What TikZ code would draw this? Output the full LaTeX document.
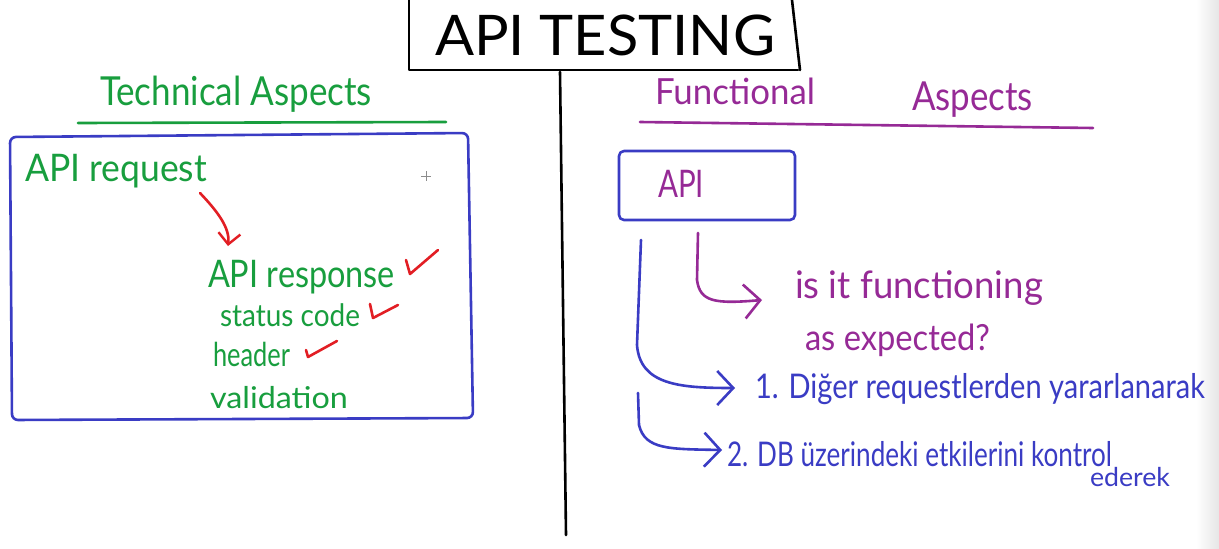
\documentclass[tikz,border=0pt]{standalone}
\usepackage{fontspec}
\setmainfont{Lato}
\usetikzlibrary{arrows.meta}
\definecolor{hgreen}{RGB}{24,158,62}
\definecolor{hred}{RGB}{226,30,36}
\definecolor{hblue}{RGB}{58,60,196}
\definecolor{hpurple}{RGB}{150,42,150}
\newcommand\hw[2]{\resizebox{#1pt}{\height}{#2}}
\tikzset{
  ink/.style={line width=2.6pt, line cap=round, line join=round},
  lbl/.style={anchor=base west, inner sep=0pt, outer sep=0pt},
  barb/.style={-{Straight Barb[length=16pt,width=34pt,line width=2.6pt]}},
  smallbarb/.style={-{Straight Barb[length=11pt,width=22pt,line width=2.4pt]}},
}
\begin{document}
\begin{tikzpicture}[x=1pt,y=-1pt]
\useasboundingbox (0,0) rectangle (1219,549);
\fill[white] (0,0) rectangle (1219,549);
\shade[left color=white,right color=black!10] (1196,0) rectangle (1219,549);

% title
\draw[ink,black] (409,0) -- (409,70) -- (798,70);
\draw[ink,black] (792,0) -- (800,70);
\node[lbl,font=\fontsize{56}{58}\selectfont] (title) at (435,55) {\hw{340}{API TESTING}};

% divider
\draw[ink,black] (560,72) -- (566,535);

% technical aspects
\node[lbl,hgreen,font=\fontsize{40}{44}\selectfont] (tech) at (100,105) {\hw{272}{Technical Aspects}};
\draw[ink,hgreen] (78,123) -- (446,122);
\draw[ink,hblue,rounded corners=6pt] (10,137) -- (468,133) -- (473,418) -- (12,420) -- cycle;
\node[lbl,hgreen,font=\fontsize{38}{42}\selectfont] (req) at (25,181) {\hw{182}{API request}};
\node[lbl,hgreen,font=\fontsize{38}{42}\selectfont] (resp) at (208,287) {\hw{187}{API response}};
\node[lbl,hgreen,font=\fontsize{31}{34}\selectfont] (status) at (220,326) {\hw{140}{status code}};
\node[lbl,hgreen,font=\fontsize{33}{36}\selectfont] (header) at (213,366) {\hw{77}{header}};
\node[lbl,hgreen,font=\fontsize{30}{34}\selectfont] (valid) at (210,408) {\hw{138}{validation}};
\draw[black!45,line width=0.8pt] (421,176) -- (431,176) (426,171) -- (426,181);

\coordinate (r1) at (200,193);
\coordinate (r2) at (228,246);
\draw[ink,hred,smallbarb] (r1) .. controls (218,212) and (230,228) .. (r2);
\draw[ink,hred] (406,260) -- (410,274) -- (438,250);
\draw[ink,hred] (370,304) -- (373,318) -- (398,305);
\draw[ink,hred] (306,350) -- (308,357) -- (337,341);

% functional aspects
\node[lbl,hpurple,font=\fontsize{36}{40}\selectfont] (func) at (655,104) {\hw{160}{Functional}};
\node[lbl,hpurple,font=\fontsize{40}{44}\selectfont] (asp) at (912,110) {\hw{121}{Aspects}};
\draw[ink,hpurple] (640,122) -- (1093,128);

\draw[ink,hblue,rounded corners=5pt] (619,151) rectangle (795,220);
\node[lbl,hpurple,font=\fontsize{38}{42}\selectfont] (api) at (658,197) {\hw{46}{API}};

\node[lbl,hpurple,font=\fontsize{38}{42}\selectfont] (q1) at (795,298) {\hw{248}{is it functioning}};
\node[lbl,hpurple,font=\fontsize{36}{40}\selectfont] (q2) at (805,350) {\hw{185}{as expected?}};

\coordinate (p1) at (698,233);
\coordinate (p2) at (762,300);
\draw[ink,hpurple,barb] (p1) -- (697,280) .. controls (700,302) and (715,304) .. (p2);

\node[lbl,hblue,font=\fontsize{34}{38}\selectfont] (t1) at (755,398) {\hw{450}{1. Diğer requestlerden yararlanarak}};
\node[lbl,hblue,font=\fontsize{34}{38}\selectfont] (t2) at (727,466) {\hw{385}{2. DB üzerindeki etkilerini kontrol}};
\node[lbl,hblue,font=\fontsize{26}{30}\selectfont] (t3) at (1090,486) {\hw{80}{ederek}};

\coordinate (b1) at (641,240);
\coordinate (b1e) at (735,388);
\draw[ink,hblue,barb] (b1) -- (637,345) .. controls (640,385) and (680,388) .. (b1e);
\coordinate (b2) at (638,393);
\coordinate (b2e) at (722,450);
\draw[ink,hblue,barb] (b2) -- (639,425) .. controls (645,450) and (670,449) .. (b2e);
\end{tikzpicture}
\end{document}
